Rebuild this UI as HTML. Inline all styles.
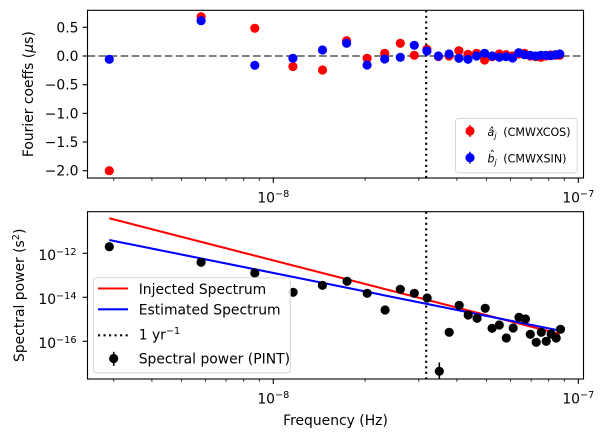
<!DOCTYPE html>
<html>
<head>
<meta charset="utf-8">
<style>
html,body{margin:0;padding:0;background:#fff;}
svg{display:block;}
text{font-family:"DejaVu Sans","Liberation Sans",sans-serif;fill:#000;}
</style>
</head>
<body>
<svg width="604" height="437" viewBox="0 0 604 437" xmlns="http://www.w3.org/2000/svg">
<defs>
<clipPath id="c1"><rect x="87.5" y="10.3" width="496" height="167.7"/></clipPath>
<clipPath id="c2"><rect x="87.5" y="211.7" width="496" height="167.3"/></clipPath>
</defs>
<rect width="604" height="437" fill="#fff"/>

<!-- ============ TOP AXES ============ -->
<g clip-path="url(#c1)">
<line x1="87.5" y1="56" x2="583.5" y2="56" stroke="#808080" stroke-width="2.08" stroke-dasharray="7.7 3.33"/>
<line x1="426.2" y1="10.3" x2="426.2" y2="178" stroke="#000" stroke-width="2.08" stroke-dasharray="2.08 3.44"/>
<g fill="#ff0000">
<circle cx="109.3" cy="170.7" r="4.6"/><circle cx="201.1" cy="16.7" r="4.6"/><circle cx="254.8" cy="28.3" r="4.6"/>
<circle cx="292.9" cy="66.5" r="4.6"/><circle cx="322.5" cy="70" r="4.6"/><circle cx="346.6" cy="40.7" r="4.6"/>
<circle cx="367.1" cy="58.3" r="4.6"/><circle cx="384.7" cy="53.3" r="4.6"/><circle cx="400.3" cy="43.3" r="4.6"/>
<circle cx="414.3" cy="55.3" r="4.6"/><circle cx="426.9" cy="49.3" r="4.6"/><circle cx="438.4" cy="56.5" r="4.6"/>
<circle cx="449.1" cy="56" r="4.6"/><circle cx="458.9" cy="50.7" r="4.6"/><circle cx="468.0" cy="54.3" r="4.6"/>
<circle cx="476.6" cy="53.3" r="4.6"/><circle cx="484.6" cy="60" r="4.6"/><circle cx="492.2" cy="56.7" r="4.6"/>
<circle cx="499.3" cy="54" r="4.6"/><circle cx="506.1" cy="54.7" r="4.6"/><circle cx="512.6" cy="56" r="4.6"/>
<circle cx="518.7" cy="54" r="4.6"/><circle cx="524.6" cy="53.3" r="4.6"/><circle cx="530.3" cy="56" r="4.6"/>
<circle cx="535.7" cy="56.7" r="4.6"/><circle cx="540.9" cy="57.3" r="4.6"/><circle cx="545.9" cy="56" r="4.6"/>
<circle cx="550.7" cy="55" r="4.6"/><circle cx="555.3" cy="55.3" r="4.6"/><circle cx="559.8" cy="55.3" r="4.6"/>
</g>
<g fill="#0000ff">
<circle cx="109.3" cy="59.3" r="4.6"/><circle cx="201.1" cy="20.7" r="4.6"/><circle cx="254.8" cy="65.3" r="4.6"/>
<circle cx="292.9" cy="58.3" r="4.6"/><circle cx="322.5" cy="50" r="4.6"/><circle cx="346.6" cy="43.3" r="4.6"/>
<circle cx="367.1" cy="65" r="4.6"/><circle cx="384.7" cy="59" r="4.6"/><circle cx="400.3" cy="57.3" r="4.6"/>
<circle cx="414.3" cy="45.3" r="4.6"/><circle cx="426.9" cy="51" r="4.6"/><circle cx="438.4" cy="56" r="4.6"/>
<circle cx="449.1" cy="54" r="4.6"/><circle cx="458.9" cy="58.3" r="4.6"/><circle cx="468.0" cy="59.3" r="4.6"/>
<circle cx="476.6" cy="56" r="4.6"/><circle cx="484.6" cy="53.3" r="4.6"/><circle cx="492.2" cy="56" r="4.6"/>
<circle cx="499.3" cy="57.3" r="4.6"/><circle cx="506.1" cy="56.7" r="4.6"/><circle cx="512.6" cy="58" r="4.6"/>
<circle cx="518.7" cy="52.7" r="4.6"/><circle cx="524.6" cy="54.7" r="4.6"/><circle cx="530.3" cy="55.3" r="4.6"/>
<circle cx="535.7" cy="56" r="4.6"/><circle cx="540.9" cy="55.3" r="4.6"/><circle cx="545.9" cy="55.3" r="4.6"/>
<circle cx="550.7" cy="55.7" r="4.6"/><circle cx="555.3" cy="54.7" r="4.6"/><circle cx="559.8" cy="54" r="4.6"/>
</g>
</g>
<rect x="87.5" y="10.3" width="496" height="167.7" fill="none" stroke="#000" stroke-width="1.1"/>
<!-- top y ticks -->
<g stroke="#000" stroke-width="1.1">
<line x1="82.6" y1="27.3" x2="87.5" y2="27.3"/><line x1="82.6" y1="56" x2="87.5" y2="56"/>
<line x1="82.6" y1="84.7" x2="87.5" y2="84.7"/><line x1="82.6" y1="113.35" x2="87.5" y2="113.35"/>
<line x1="82.6" y1="142" x2="87.5" y2="142"/><line x1="82.6" y1="170.7" x2="87.5" y2="170.7"/>
</g>
<g font-size="13.9" text-anchor="end">
<text x="78.5" y="32.3">0.5</text><text x="78.5" y="61">0.0</text>
<text x="78.5" y="89.7">−0.5</text><text x="78.5" y="118.4">−1.0</text>
<text x="78.5" y="147">−1.5</text><text x="78.5" y="175.7">−2.0</text>
</g>
<!-- top x ticks -->
<g stroke="#000" stroke-width="1.1">
<line x1="273.3" y1="178" x2="273.3" y2="182.9"/><line x1="578.3" y1="178" x2="578.3" y2="182.9"/>
</g>
<g stroke="#000" stroke-width="0.83">
<line x1="113.8" y1="178" x2="113.8" y2="180.8"/><line x1="151.9" y1="178" x2="151.9" y2="180.8"/>
<line x1="181.5" y1="178" x2="181.5" y2="180.8"/><line x1="205.6" y1="178" x2="205.6" y2="180.8"/>
<line x1="226.1" y1="178" x2="226.1" y2="180.8"/><line x1="243.7" y1="178" x2="243.7" y2="180.8"/>
<line x1="259.3" y1="178" x2="259.3" y2="180.8"/><line x1="365.1" y1="178" x2="365.1" y2="180.8"/>
<line x1="418.8" y1="178" x2="418.8" y2="180.8"/><line x1="456.9" y1="178" x2="456.9" y2="180.8"/>
<line x1="486.5" y1="178" x2="486.5" y2="180.8"/><line x1="510.6" y1="178" x2="510.6" y2="180.8"/>
<line x1="531.1" y1="178" x2="531.1" y2="180.8"/><line x1="548.7" y1="178" x2="548.7" y2="180.8"/>
<line x1="564.3" y1="178" x2="564.3" y2="180.8"/>
</g>
<g font-size="13.9" text-anchor="middle">
<text x="273.3" y="202.3">10<tspan font-size="9.7" dy="-5.5">−8</tspan></text>
<text x="578.3" y="202.3">10<tspan font-size="9.7" dy="-5.5">−7</tspan></text>
</g>
<text font-size="13.9" text-anchor="middle" transform="translate(33,94.2) rotate(-90)">Fourier coeffs (<tspan font-style="italic">μ</tspan>s)</text>

<!-- top legend -->
<rect x="455.5" y="118.5" width="121.8" height="54.2" rx="2.8" fill="rgba(255,255,255,0.8)" stroke="#d6d6d6" stroke-width="1"/>
<line x1="470" y1="125" x2="470" y2="137" stroke="#ff0000" stroke-width="1.5"/>
<circle cx="470" cy="131" r="4.6" fill="#ff0000"/>
<line x1="470" y1="151.7" x2="470" y2="163.7" stroke="#0000ff" stroke-width="1.5"/>
<circle cx="470" cy="157.7" r="4.6" fill="#0000ff"/>
<g font-size="11.1">
<text x="487.5" y="136" font-style="italic">â<tspan font-size="7.8" dy="2.5">j</tspan></text>
<text x="503.3" y="136">(CMWXCOS)</text>
<text x="487.5" y="162.7" font-style="italic">b<tspan font-size="7.8" dy="2.5">j</tspan></text>
<text x="489.6" y="159.2" font-size="11.1">ˆ</text>
<text x="503.3" y="162.7">(CMWXSIN)</text>
</g>

<!-- ============ BOTTOM AXES ============ -->
<g clip-path="url(#c2)">
<line x1="426.2" y1="211.7" x2="426.2" y2="379" stroke="#000" stroke-width="2.08" stroke-dasharray="2.08 3.44"/>
<line x1="109.3" y1="218.3" x2="559.8" y2="334" stroke="#ff0000" stroke-width="2.08"/>
<line x1="109.3" y1="240" x2="559.8" y2="330.6" stroke="#0000ff" stroke-width="2.08"/>
<line x1="439.3" y1="362.5" x2="439.3" y2="382" stroke="#000" stroke-width="1.6"/>
<g fill="#000">
<circle cx="109.3" cy="246.7" r="4.6"/><circle cx="201.1" cy="262.3" r="4.6"/><circle cx="254.8" cy="273" r="4.6"/>
<circle cx="293.1" cy="292.3" r="4.6"/><circle cx="322.4" cy="285.3" r="4.6"/><circle cx="347.1" cy="281.3" r="4.6"/>
<circle cx="367.2" cy="293.3" r="4.6"/><circle cx="385.1" cy="310" r="4.6"/><circle cx="400.3" cy="289.3" r="4.6"/>
<circle cx="414.3" cy="293.3" r="4.6"/><circle cx="427.2" cy="298" r="4.6"/><circle cx="439.3" cy="371.3" r="4.6"/>
<circle cx="449.2" cy="332.3" r="4.6"/><circle cx="459.2" cy="305.3" r="4.6"/><circle cx="468.2" cy="315" r="4.6"/>
<circle cx="477.1" cy="318.3" r="4.6"/><circle cx="485.2" cy="308.3" r="4.6"/><circle cx="492.1" cy="328.3" r="4.6"/>
<circle cx="499.3" cy="325" r="4.6"/><circle cx="506.3" cy="338" r="4.6"/><circle cx="513.2" cy="328" r="4.6"/>
<circle cx="519" cy="317.3" r="4.6"/><circle cx="525.5" cy="319" r="4.6"/><circle cx="530.3" cy="334.3" r="4.6"/>
<circle cx="536.2" cy="342.3" r="4.6"/><circle cx="541.3" cy="332.3" r="4.6"/><circle cx="546.2" cy="341.3" r="4.6"/>
<circle cx="551.2" cy="334" r="4.6"/><circle cx="556.2" cy="338" r="4.6"/><circle cx="560.5" cy="329.3" r="4.6"/>
</g>
</g>
<rect x="87.5" y="211.7" width="496" height="167.3" fill="none" stroke="#000" stroke-width="1.1"/>
<!-- bottom y ticks -->
<g stroke="#000" stroke-width="1.1">
<line x1="82.6" y1="253.3" x2="87.5" y2="253.3"/><line x1="82.6" y1="297.3" x2="87.5" y2="297.3"/>
<line x1="82.6" y1="341.3" x2="87.5" y2="341.3"/>
</g>
<g font-size="13.9" text-anchor="end">
<text x="76.5" y="259.8">10<tspan font-size="9.7" dy="-5">−12</tspan></text>
<text x="76.5" y="303.8">10<tspan font-size="9.7" dy="-5">−14</tspan></text>
<text x="76.5" y="347.8">10<tspan font-size="9.7" dy="-5">−16</tspan></text>
</g>
<!-- bottom x ticks -->
<g stroke="#000" stroke-width="1.1">
<line x1="273.3" y1="379" x2="273.3" y2="383.9"/><line x1="578.3" y1="379" x2="578.3" y2="383.9"/>
</g>
<g stroke="#000" stroke-width="0.83">
<line x1="113.8" y1="379" x2="113.8" y2="381.8"/><line x1="151.9" y1="379" x2="151.9" y2="381.8"/>
<line x1="181.5" y1="379" x2="181.5" y2="381.8"/><line x1="205.6" y1="379" x2="205.6" y2="381.8"/>
<line x1="226.1" y1="379" x2="226.1" y2="381.8"/><line x1="243.7" y1="379" x2="243.7" y2="381.8"/>
<line x1="259.3" y1="379" x2="259.3" y2="381.8"/><line x1="365.1" y1="379" x2="365.1" y2="381.8"/>
<line x1="418.8" y1="379" x2="418.8" y2="381.8"/><line x1="456.9" y1="379" x2="456.9" y2="381.8"/>
<line x1="486.5" y1="379" x2="486.5" y2="381.8"/><line x1="510.6" y1="379" x2="510.6" y2="381.8"/>
<line x1="531.1" y1="379" x2="531.1" y2="381.8"/><line x1="548.7" y1="379" x2="548.7" y2="381.8"/>
<line x1="564.3" y1="379" x2="564.3" y2="381.8"/>
</g>
<g font-size="13.9" text-anchor="middle">
<text x="273.3" y="403.3">10<tspan font-size="9.7" dy="-5.5">−8</tspan></text>
<text x="578.3" y="403.3">10<tspan font-size="9.7" dy="-5.5">−7</tspan></text>
<text x="335.5" y="425">Frequency (Hz)</text>
</g>
<text font-size="13.9" text-anchor="middle" transform="translate(24,295.3) rotate(-90)">Spectral power (s<tspan font-size="9.7" dy="-5">2</tspan><tspan dy="5">)</tspan></text>

<!-- bottom legend -->
<rect x="93.5" y="277.7" width="196.8" height="95" rx="2.8" fill="rgba(255,255,255,0.8)" stroke="#d6d6d6" stroke-width="1"/>
<line x1="98" y1="288.5" x2="128" y2="288.5" stroke="#ff0000" stroke-width="2.08"/>
<line x1="98" y1="309.3" x2="128" y2="309.3" stroke="#0000ff" stroke-width="2.08"/>
<line x1="98" y1="335.3" x2="128" y2="335.3" stroke="#000" stroke-width="2.08" stroke-dasharray="2.08 3.44"/>
<line x1="113.7" y1="351.8" x2="113.7" y2="365.8" stroke="#000" stroke-width="1.6"/>
<circle cx="113.7" cy="358.5" r="4.6" fill="#000"/>
<g font-size="13.9">
<text x="138.7" y="294">Injected Spectrum</text>
<text x="138.7" y="314.3">Estimated Spectrum</text>
<text x="138.7" y="339.5">1 yr<tspan font-size="9.7" dy="-5.5">−1</tspan></text>
<text x="138.7" y="363.3">Spectral power (PINT)</text>
</g>
</svg>
</body>
</html>
